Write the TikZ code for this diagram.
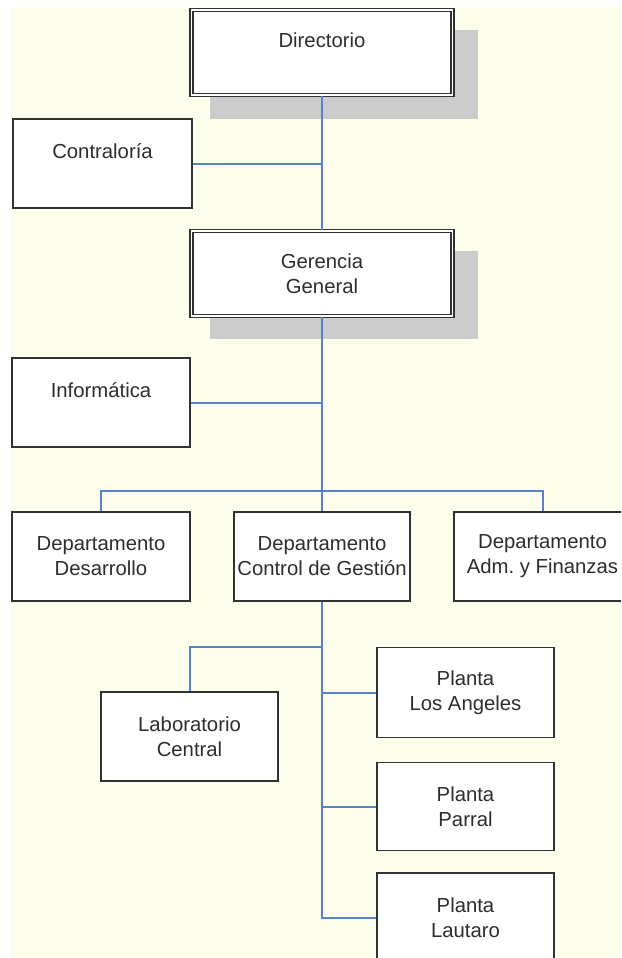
\documentclass[tikz,border=0pt]{standalone}
\usepackage{fontspec}
\setmainfont{Liberation Sans}
\frenchspacing
\definecolor{cream}{RGB}{253,253,236}
\definecolor{shadowgray}{RGB}{204,204,204}
\definecolor{boxline}{RGB}{50,50,50}
\definecolor{txt}{RGB}{45,45,45}
\definecolor{connblue}{RGB}{85,132,204}
\tikzset{
  orgbox/.style={draw=boxline, line width=1.8pt, fill=white, rectangle, inner sep=0pt,
    minimum width=178pt, minimum height=89pt, align=center, text=txt,
    font=\fontsize{20.3}{25}\selectfont},
  topbox/.style={orgbox, draw=boxline, line width=1.6pt, double=white, double distance=1.5pt,
    minimum width=261pt, minimum height=85pt},
  conn/.style={draw=connblue, line width=2pt}
}
\begin{document}
\begin{tikzpicture}[x=1pt,y=-1pt]
\useasboundingbox (0,0) rectangle (621,958);
\clip (0,0) rectangle (621,958);
\fill[white] (0,0) rectangle (621,958);
\fill[cream] (11,7) rectangle (621,958);
% shadows
\fill[shadowgray] (210,30) rectangle (478,119);
\fill[shadowgray] (210,251) rectangle (478,339);
\coordinate (bus) at (322,490.5);
\coordinate (labj) at (322,646.5);
% boxes
\node[topbox] (dir) at (322,52.5) {Directorio\\\mbox{}};
\node[topbox] (ger) at (322,273.5) {Gerencia\\General};
\node[orgbox, minimum width=179pt] (con) at (102.5,163.5) {Contraloría\\\mbox{}};
\node[orgbox] (inf) at (101,402.5) {Informática\\\mbox{}};
\node[orgbox] (des) at (101,556.5) {Departamento\\Desarrollo};
\node[orgbox, minimum width=176pt] (ctl) at (322,556.5) {Departamento\\Control de Gestión};
\node[orgbox, minimum width=177pt] (adm) at (542.5,556.5) {Departamento\\Adm. y Finanzas};
\node[orgbox, minimum width=177pt] (lab) at (189.5,736.5) {Laboratorio\\Central};
\node[orgbox, minimum width=177pt, minimum height=90pt] (la) at (465.5,692.5) {Planta\\Los Angeles};
\node[orgbox, minimum width=177pt, minimum height=88pt] (par) at (465.5,806.5) {Planta\\Parral};
\node[orgbox, minimum width=177pt] (lau) at (465.5,917.5) {Planta\\Lautaro};
% connectors
\draw[conn] (dir.south) -- (ger.north);
\draw[conn] (con.east) -- (con.east -| dir.south);
\draw[conn] (inf.east) -- (inf.east -| ger.south);
\draw[conn] (ger.south) -- (ctl.north);
\draw[conn] (des.north) |- (bus) -| (adm.north);
\draw[conn] (ctl.south) |- (lau.west);
\draw[conn] (labj) -| (lab.north);
\draw[conn] (la.west) -- (la.west -| ctl.south);
\draw[conn] (par.west) -- (par.west -| ctl.south);
\end{tikzpicture}
\end{document}
